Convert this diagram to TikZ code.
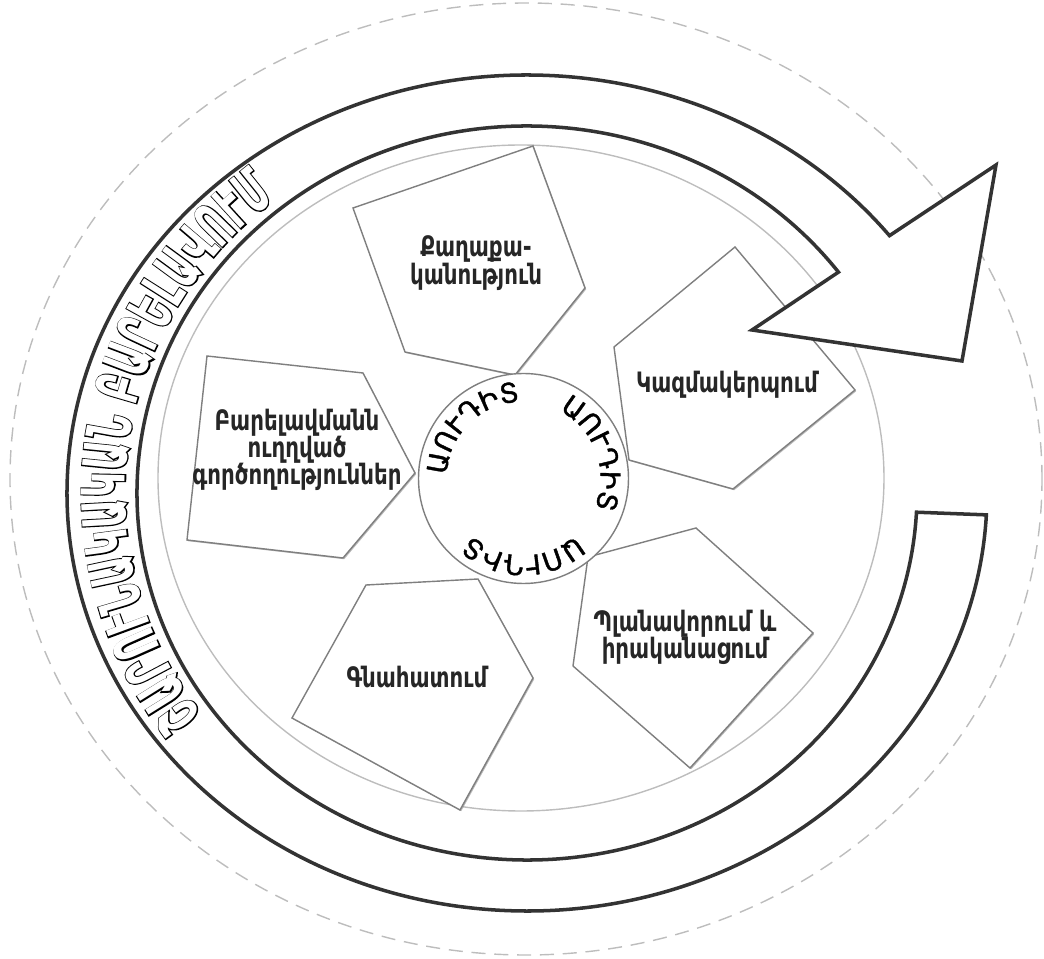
\documentclass[tikz,border=0pt]{standalone}
\usepackage{fontspec}
\usetikzlibrary{decorations.text,shadows}
\newfontfamily\petalfont[FakeStretch=0.76]{DejaVu Sans}
\newfontfamily\auditfont[FakeBold=1.5]{DejaVu Sans}
\newfontfamily\ringfont[FakeStretch=0.6]{DejaVu Sans}
\newfontfamily\ringedgefont[FakeStretch=0.6,FakeBold=3.5]{DejaVu Sans}
\definecolor{ringgray}{HTML}{333333}
\definecolor{guidegray}{HTML}{BDBDBD}
\definecolor{petalgray}{HTML}{7F7F7F}
\definecolor{textgray}{HTML}{262626}
\tikzset{
  guide/.style={draw=guidegray,line width=0.8pt},
  petal/.style={draw=petalgray,line width=0.8pt,fill=white,
    drop shadow={shadow xshift=0.7pt,shadow yshift=-0.7pt,fill=black!45,opacity=0.6}},
  petaltext/.style={font=\petalfont\bfseries\fontsize{16}{15.5}\selectfont,text=textgray,align=center},
  hub/.style={draw=petalgray,line width=0.8pt,fill=white},
  ring/.style={draw=ringgray,line width=2pt,fill=white,line join=miter}
}
\begin{document}
\begin{tikzpicture}[x=0.02cm,y=0.02cm]
\useasboundingbox (-527,-466) rectangle (517,493);
\draw[guide,dashed,dash pattern=on 8pt off 5pt] (-1,14) ellipse [x radius=516,y radius=476];
\draw[guide] (-6,15) ellipse [x radius=363,y radius=333];
%petals
\draw[petal] (-174,285)--(6,347)--(58,205)--(-12,118)--(-122,141)--cycle;
\draw[petal] (87,146)--(208,246)--(328,103)--(206,4)--(102,33)--cycle;
\draw[petal] (61,-64)--(169,-35)--(286,-140)--(163,-275)--(46,-173)--cycle;
\draw[petal] (-161,-92)--(-49,-86)--(6,-185)--(-67,-317)--(-235,-225)--cycle;
\draw[petal] (-320,137)--(-164,120)--(-112,20)--(-184,-65)--(-340,-47)--cycle;
%hub
\draw[hub] (-3.5,14.5) circle (105);
%arrow
\draw[ring] (38:460 and 418)--(469,328)--(435,132)--(225,163)--(37:390 and 367)
  arc[start angle=37,end angle=357,x radius=390,y radius=367]--(357:460 and 418)
  arc[start angle=357,end angle=38,x radius=460,y radius=418]--cycle;
%labels
\node[petaltext] (politics) at (-51,230) {Քաղաքա-\\կանություն};
\node[petaltext] (organizing) at (200,108) {Կազմակերպում};
\node[petaltext] (planning) at (158,-144) {Պլանավորում և\\իրականացում};
\node[petaltext] (actions) at (-230,43) {Բարելավմանն\\ուղղված\\գործողություններ};
\node[petaltext] (evaluation) at (-110,-184) {Գնահատում};
\begin{scope}[shift={(-3.5,14.5)}]
\foreach \a in {135,20,270}{
\path[decorate,decoration={text along path,text align=center,
  text={|\auditfont\fontsize{15.5}{15.5}\selectfont|ԱՈՒԴԻՏ}}]
  ({\a+60}:77) arc[start angle=\a+60,end angle=\a-60,radius=77];
}
\end{scope}
\path[decorate,decoration={text along path,text align=center,
  text={|\ringedgefont\bfseries\fontsize{34}{34}\selectfont\color{black}|ՇԱՐՈՒՆԱԿԱԿԱՆ ԲԱՐԵԼԱՎՈՒՄ}}]
  (225:402 and 376) arc[start angle=225,end angle=120,x radius=402,y radius=376];
\path[decorate,decoration={text along path,text align=center,
  text={|\ringfont\bfseries\fontsize{34}{34}\selectfont\color{white}|ՇԱՐՈՒՆԱԿԱԿԱՆ ԲԱՐԵԼԱՎՈՒՄ}}]
  (225:402 and 376) arc[start angle=225,end angle=120,x radius=402,y radius=376];
\end{tikzpicture}
\end{document}
